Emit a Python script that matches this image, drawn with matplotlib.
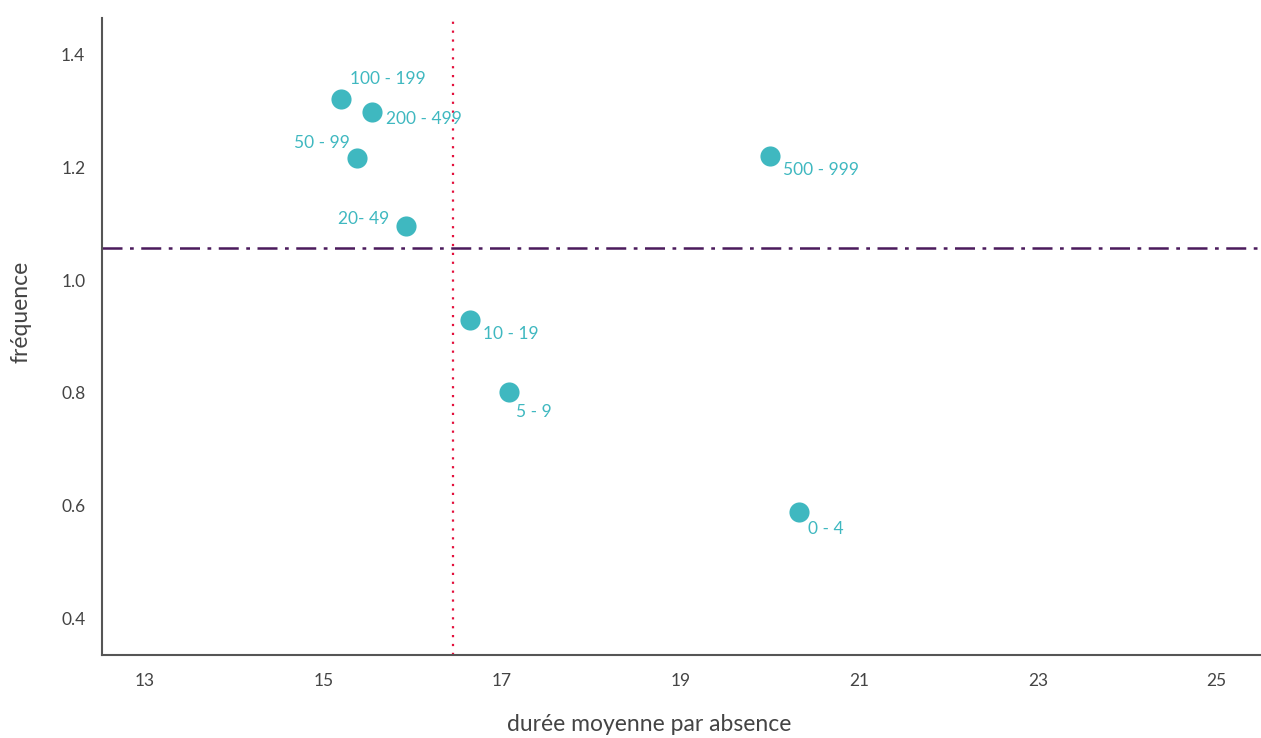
import matplotlib.pyplot as plt

plt.rcParams['font.family'] = ['Lato', 'DejaVu Sans']

# tranches de taille d'effectif
labels = ['100 - 199', '200 - 499', '50 - 99', '20- 49', '500 - 999', '10 - 19', '5 - 9', '0 - 4']
duree = [15.20, 15.54, 15.38, 15.92, 20.00, 16.64, 17.08, 20.32]
freq = [1.320, 1.297, 1.216, 1.096, 1.219, 0.929, 0.802, 0.589]
# label offsets in pixels (dx, dy) and alignment
offs = [(9, 20, 'left'), (14, -7, 'left'), (-8, 15, 'right'), (-16, 7, 'right'),
        (13, -14, 'left'), (13, -14, 'left'), (7, -20, 'left'), (9, -17, 'left')]

moy_duree = 16.45
moy_freq = 1.057

teal = '#3fb8c0'
grey = '#555555'

fig = plt.figure(figsize=(12.61, 7.38), dpi=100)
ax = fig.add_axes([0.0809, 0.1125, 0.918, 0.863])

ax.scatter(duree, freq, s=210, color=teal, zorder=3, linewidths=0)
for lab, x, y, (dx, dy, ha) in zip(labels, duree, freq, offs):
    ax.annotate(lab, (x, y), xytext=(dx * 0.72, dy * 0.72), textcoords='offset points',
                ha=ha, va='center', color=teal, fontsize=12.5)

ax.axvline(moy_duree, color='#e3103c', linestyle=(0, (1, 3)), linewidth=1.6, zorder=2)
ax.axhline(moy_freq, color='#4b1a5c', linestyle=(0, (8, 3, 1.5, 3)), linewidth=1.8, zorder=2)

ax.set_xlim(12.52, 25.48)
ax.set_ylim(0.336, 1.464)
ax.set_xticks([13, 15, 17, 19, 21, 23, 25])
ax.set_yticks([0.4, 0.6, 0.8, 1.0, 1.2, 1.4])
ax.set_yticklabels(['0.4', '0.6', '0.8', '1.0', '1.2', '1.4'])

for s in ['top', 'right']:
    ax.spines[s].set_visible(False)
for s in ['left', 'bottom']:
    ax.spines[s].set_color(grey)
    ax.spines[s].set_linewidth(1.5)
ax.tick_params(length=0, labelsize=12.5, colors='#444444')
ax.tick_params(axis='x', pad=13)
ax.tick_params(axis='y', pad=12)

ax.set_xlabel('durée moyenne par absence', fontsize=16.5, color='#444444')
ax.set_ylabel('fréquence', fontsize=16.5, color='#444444')
ax.xaxis.set_label_coords(0.473, -0.092)
ax.yaxis.set_label_coords(-0.061, 0.538)

fig.savefig('out.png', dpi=100)
